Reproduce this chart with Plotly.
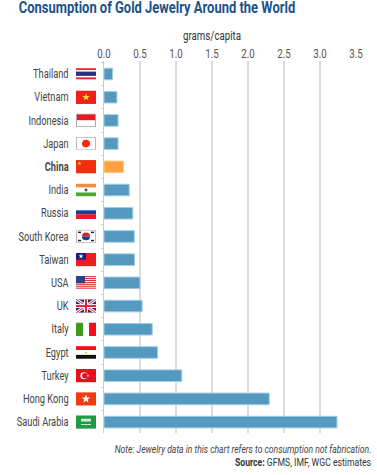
import base64
import math
import plotly.graph_objects as go

countries = ["Thailand", "Vietnam", "Indonesia", "Japan", "China", "India", "Russia", "South Korea",
             "Taiwan", "USA", "UK", "Italy", "Egypt", "Turkey", "Hong Kong", "Saudi Arabia"]
values = [0.12, 0.18, 0.195, 0.195, 0.27, 0.35, 0.40, 0.42, 0.425, 0.50, 0.53, 0.67, 0.745, 1.08, 2.295, 3.236]
highlight = "China"
x_ticks = [0, 0.5, 1, 1.5, 2, 2.5, 3, 3.5]

BLUE = "#5499bf"
ORANGE = "#ffa23e"
FONT = "Roboto, sans-serif"

def rects(*items):
    return "".join(f'<rect x="{x}" y="{y}" width="{w}" height="{h}" fill="{c}"/>' for x, y, w, h, c in items)

def star(cx, cy, r, c):
    pts = []
    for i in range(10):
        rr = r if i % 2 == 0 else r * 0.4
        a = -math.pi / 2 + i * math.pi / 5
        pts.append(f"{cx + rr * math.cos(a):.2f},{cy + rr * math.sin(a):.2f}")
    return f'<polygon points="{" ".join(pts)}" fill="{c}"/>'

usa = rects((0, 0, 20, 14, "#fff")) + "".join(rects((0, i * 2, 20, 1.1, "#d8343c")) for i in range(7)) + rects((0, 0, 9, 7.5, "#2f3f8c"))
flags = {
    "Thailand": rects((0, 1, 20, 2, "#ee2233"), (0, 3, 20, 1.5, "#fff"), (0, 4.5, 20, 4.5, "#26307f"), (0, 9, 20, 1.5, "#fff"), (0, 10.5, 20, 2, "#ee2233")),
    "Vietnam": rects((0, 0, 20, 14, "#f0201a")) + star(10, 7, 4, "#ffe020"),
    "Indonesia": rects((0, 0, 20, 7, "#f0151e"), (0, 7, 20, 7, "#fff")) + '<rect x=".5" y=".5" width="19" height="13" fill="none" stroke="#aaa"/>',
    "Japan": rects((0, 0, 20, 14, "#fff")) + '<circle cx="10" cy="7" r="4" fill="#f52a10"/><rect x=".5" y=".5" width="19" height="13" fill="none" stroke="#bbb"/>',
    "China": rects((0, 0, 20, 14, "#ee3010")) + star(3.5, 3.5, 2, "#ffdd20"),
    "India": rects((0, 0.5, 20, 4, "#f28d45"), (0, 4.5, 20, 5, "#fff"), (0, 9.5, 20, 4, "#4ba835")) + '<circle cx="10" cy="7" r="1.5" fill="#445599"/>',
    "Russia": rects((0, 4, 20, 4, "#1c3a96"), (0, 8, 20, 5, "#e0202a")),
    "South Korea": rects((0, 0, 20, 14, "#fff")) + '<path d="M6 7a4 4 0 0 1 8 0z" fill="#e0202a"/><path d="M6 7a4 4 0 0 0 8 0z" fill="#1c3a96"/>'
        + rects((2, 2, 3, 1.5, "#222"), (15, 2, 3, 1.5, "#222"), (2, 10.5, 3, 1.5, "#222"), (15, 10.5, 3, 1.5, "#222"))
        + '<rect x=".5" y=".5" width="19" height="13" fill="none" stroke="#bbb"/>',
    "Taiwan": rects((0, 0, 20, 14, "#ee1c25"), (0, 0, 10, 7, "#1c1c8c")) + star(5, 3.5, 2.6, "#fff"),
    "USA": usa,
    "UK": rects((0, 0, 20, 14, "#26307f"))
        + '<path d="M0 0L20 14M20 0L0 14" stroke="#fff" stroke-width="3"/><path d="M0 0L20 14M20 0L0 14" stroke="#dd2233" stroke-width="1"/>'
        + rects((8, 0, 4, 14, "#fff"), (0, 5, 20, 4, "#fff"), (9, 0, 2, 14, "#dd2233"), (0, 6, 20, 2, "#dd2233")),
    "Italy": rects((0, 0, 7, 14, "#3f9a1c"), (7, 0, 6, 14, "#fff"), (13, 0, 7, 14, "#f0101c")),
    "Egypt": rects((0, 0.5, 20, 4, "#f0101c"), (0, 4.5, 20, 5, "#fff"), (0, 9.5, 20, 4, "#111")) + star(10, 7, 1.6, "#e8b840"),
    "Turkey": rects((0, 0, 20, 14, "#e8101c")) + '<circle cx="8" cy="7" r="3.6" fill="#fff"/><circle cx="9" cy="7" r="2.9" fill="#e8101c"/>' + star(12, 7, 1.4, "#fff"),
    "Hong Kong": rects((0, 0, 20, 14, "#f03c10")) + star(10, 7, 4.5, "#fff"),
    "Saudi Arabia": rects((0, 0, 20, 14, "#1f9a45"), (5, 3.5, 10, 3, "#cfe8d4"), (5, 9, 10, 1, "#cfe8d4")),
}

def uri(svg_body):
    svg = f'<svg xmlns="http://www.w3.org/2000/svg" width="200" height="140" viewBox="0 0 20 14" preserveAspectRatio="none">{svg_body}</svg>'
    return "data:image/svg+xml;base64," + base64.b64encode(svg.encode()).decode()

W, H = 377, 475
L, R, T, B = 104, 21, 61, 42
pw = W - L - R
ph = H - T - B
row = 23.2

fig = go.Figure(go.Bar(
    x=values, y=countries, orientation="h", width=0.5,
    marker=dict(color=[ORANGE if c == highlight else BLUE for c in countries],
                line=dict(color=["#ffc888" if c == highlight else "#a5cde2" for c in countries], width=1)),
))

images = [dict(source=uri(flags[c]), xref="paper", yref="y", x=-28 / pw, y=c, sizex=20 / pw, sizey=13.5 / row,
               xanchor="left", yanchor="middle", sizing="stretch", layer="above") for c in countries]

def ptx(px):
    return (px - L) / pw

def pty(py):
    return 1 - (py - T) / ph

annotations = [
    dict(text="<b>Consumption of Gold Jewelry Around the World</b>", x=ptx(157), y=pty(8), xanchor="center", yanchor="middle",
         width=284, height=19, font=dict(size=16, color="#1b5288", family=FONT)),
    dict(text="grams/capita", x=ptx(212), y=pty(36), xanchor="center", yanchor="middle",
         width=66, height=15, font=dict(size=12, color="#333", family=FONT)),
    dict(text="<i>Note: Jewelry data in this chart refers to consumption not fabrication.</i>", x=ptx(243), y=pty(449.5),
         xanchor="center", yanchor="middle", width=262, height=12, font=dict(size=10.6, color="#444", family=FONT)),
    dict(text="<b>Source:</b> GFMS, IMF, WGC estimates", x=ptx(303), y=pty(463),
         xanchor="center", yanchor="middle", width=142, height=12, font=dict(size=10.7, color="#333", family=FONT)),
]
for a in annotations:
    a.update(xref="paper", yref="paper", showarrow=False, borderpad=0)

fig.update_layout(
    width=W, height=H, margin=dict(l=L, r=R, t=T, b=B, autoexpand=False),
    paper_bgcolor="white", plot_bgcolor="white", showlegend=False,
    images=images, annotations=annotations,
    xaxis=dict(side="top", range=[0, 3.5], tickvals=x_ticks, ticktext=[f"{v:.1f}" for v in x_ticks],
               showgrid=True, gridcolor="#dcdcdc", gridwidth=1.5, zeroline=False, showline=False, ticks="",
               tickfont=dict(size=12, color="#555", family=FONT)),
    yaxis=dict(type="category", categoryorder="array", categoryarray=countries,
               range=[15.47, -0.56], tickvals=countries,
               ticktext=[f"<b>{c}</b>" if c == highlight else c for c in countries],
               tickson="boundaries", ticks="outside", ticklen=2, tickcolor="#cccccc", tickwidth=1,
               showline=True, linecolor="#cccccc", linewidth=1, showgrid=False, zeroline=False,
               ticklabelstandoff=32, tickfont=dict(size=12, color="#444", family=FONT)),
)

# Remove the page margin and narrow the text to the reference's condensed look.
post = """
document.body.style.margin = '0';
document.querySelectorAll('.xtick text, .ytick text').forEach(function (t) {
  var f = t.closest('.ytick') ? 0.77 : 0.81;
  t.setAttribute('textLength', (t.getComputedTextLength() * f).toFixed(1));
  t.setAttribute('lengthAdjust', 'spacingAndGlyphs');
});
document.querySelectorAll('.annotation-text').forEach(function (t) {
  var cx = parseFloat(t.getAttribute('x')) || 0;
  t.removeAttribute('clip-path');
  t.setAttribute('transform', 'translate(' + cx + ',0) scale(0.81,1) translate(' + (-cx) + ',0)');
});
"""
fig.write_html("out.html", config=dict(displayModeBar=False), post_script=post)
